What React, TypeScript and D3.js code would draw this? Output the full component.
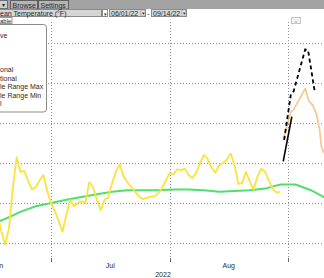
import React from "react";
import * as d3 from "d3";

const W = 324;
const H = 278;

// Actual daily mean temperature (°F), one value per day starting on actualStart
const actualStart = "2022-06-17";
const actualValues = [
  73.5, 71.5, 69.8, 71.8, 76.8, 80.7, 78.9, 79.0, 77.8, 76.7, 77.0, 77.8, 78.5, 76.5,
  75.0, 74.0, 72.8, 71.4, 73.5, 75.4, 74.6, 75.0, 75.2, 75.0, 77.6, 77.0, 75.4, 74.1,
  75.4, 75.7, 77.5, 79.0, 79.8, 78.3, 77.6, 77.0, 76.4, 75.8, 75.5, 75.6, 75.8, 75.8,
  76.2, 76.8, 77.8, 78.7, 78.6, 79.2, 79.1, 79.3, 78.5, 78.1, 78.8, 80.0, 81.0, 80.5,
  79.4, 78.8, 79.75, 80.0, 80.4, 81.2, 79.75, 77.4, 77.5, 78.9, 77.7, 76.7, 78.3, 79.3,
  78.9, 77.8, 76.8, 76.3, 76.4,
];

// Normal temperature
const normalDates = [
  "2022-06-15", "2022-06-19", "2022-06-23", "2022-06-27", "2022-07-01", "2022-07-05",
  "2022-07-09", "2022-07-13", "2022-07-17", "2022-07-21", "2022-07-25", "2022-07-29",
  "2022-08-02", "2022-08-06", "2022-08-10", "2022-08-14", "2022-08-18", "2022-08-22",
  "2022-08-26", "2022-08-30", "2022-09-03", "2022-09-07", "2022-09-11",
];
const normalValues = [
  72.3, 73.0, 73.9, 74.6, 75.0, 75.4, 75.75, 76.1, 76.4, 76.6, 76.6, 76.6,
  76.7, 76.7, 76.6, 76.4, 76.5, 76.6, 76.8, 77.3, 77.3, 76.6, 75.6,
];

// Forecasts
const ensembleTimes = [
  "2022-08-30T18:00:00Z", "2022-09-01T18:00:00Z", "2022-09-02T12:00:00Z",
  "2022-09-05T12:00:00Z", "2022-09-06T12:00:00Z", "2022-09-07T12:00:00Z",
  "2022-09-08T12:00:00Z", "2022-09-09T06:00:00Z", "2022-09-09T18:00:00Z",
  "2022-09-10T12:00:00Z",
];
const ensembleValues = [82.9, 86.4, 86.7, 89.3, 87.7, 87.2, 86.0, 84.2, 82.0, 81.2];

const operationalTimes = ["2022-08-30T18:00:00Z", "2022-09-02T00:00:00Z"];
const operationalValues = [80.2, 85.8];

const rangeMaxTimes = [
  "2022-08-31T00:00:00Z", "2022-09-01T18:00:00Z", "2022-09-02T12:00:00Z",
  "2022-09-05T12:00:00Z", "2022-09-06T06:00:00Z", "2022-09-08T00:00:00Z",
];
const rangeMaxValues = [82.9, 88.6, 89.0, 94.2, 94.1, 88.9];

const yTicks = [70, 75, 80, 85, 90, 95];
const monthTicks = ["2022-07-01", "2022-08-01", "2022-09-01"];
const monthLabels = ["Jun", "Jul", "Aug"];
const monthStarts = ["2022-06-03", "2022-07-01", "2022-08-01"];
const monthEnds = ["2022-07-01", "2022-08-01", "2022-09-01"];
const yearLabel = "2022";

const legendLabels = ["ve", "", "", "", "onal", "tional", "le Range Max", "le Range Min", "l"];

const FONT = "'Liberation Sans', Arial, sans-serif";

export default function App() {
  const x = d3
    .scaleUtc()
    .domain([new Date("2022-07-01T00:00:00Z"), new Date("2022-09-01T00:00:00Z")])
    .range([51, 288]);
  const y = d3.scaleLinear().domain([70, 95]).range([243, 43]);

  const start = new Date(actualStart + "T00:00:00Z");
  const actual = actualValues.map((v, i) => ({ t: d3.utcDay.offset(start, i), v }));
  const normal = normalDates.map((d, i) => ({ t: new Date(d + "T00:00:00Z"), v: normalValues[i] }));
  const ens = ensembleTimes.map((d, i) => ({ t: new Date(d), v: ensembleValues[i] }));
  const oper = operationalTimes.map((d, i) => ({ t: new Date(d), v: operationalValues[i] }));
  const rmax = rangeMaxTimes.map((d, i) => ({ t: new Date(d), v: rangeMaxValues[i] }));

  const line = d3
    .line<{ t: Date; v: number }>()
    .x((d) => x(d.t))
    .y((d) => y(d.v));

  const grid = "#8f8f8f";
  const txt = "#2a2a2a";

  return (
    <svg
      width={W}
      height={H}
      style={{ position: "absolute", left: 0, top: 0, background: "#fff" }}
      fontFamily={FONT}
    >
      <rect x={0} y={0} width={W} height={H} fill="#fff" />
      {/* horizontal gridlines */}
      {yTicks.map((t) => (
        <line
          key={"h" + t}
          x1={0}
          x2={W}
          y1={Math.round(y(t)) + 0.5}
          y2={Math.round(y(t)) + 0.5}
          stroke={grid}
          strokeDasharray="1,2"
        />
      ))}
      {/* vertical gridlines + ticks */}
      {monthTicks.map((m) => {
        const xx = Math.round(x(new Date(m + "T00:00:00Z"))) + 0.5;
        return (
          <g key={"v" + m}>
            <line x1={xx} x2={xx} y1={22} y2={258} stroke={grid} strokeDasharray="1,2" />
            <line x1={xx} x2={xx} y1={258} y2={262} stroke="#666" />
          </g>
        );
      })}
      {/* series */}
      <path d={line(normal) || ""} fill="none" stroke="#4fe06a" strokeWidth={2} />
      <path d={line(actual) || ""} fill="none" stroke="#fbe23c" strokeWidth={1.8} strokeLinejoin="round" />
      <path d={line(ens) || ""} fill="none" stroke="#f8c68e" strokeWidth={1.7} strokeLinejoin="round" />
      <path d={line(oper) || ""} fill="none" stroke="#000" strokeWidth={1.6} />
      <path
        d={line(rmax) || ""}
        fill="none"
        stroke="#000"
        strokeWidth={1.8}
        strokeDasharray="4,3"
      />
      {/* legend box */}
      <rect x={-6} y={24.5} width={52.5} height={87.5} rx={3} fill="#fff" stroke="#8a8a8a" />
      {/* toolbar backgrounds */}
      <rect x={0} y={0} width={W} height={9} fill="#a3a3a3" />
      <rect x={-1.5} y={0.5} width={9} height={8} fill="#cfcfcf" stroke="#6e6e6e" />
      <rect x={10.5} y={0.5} width={27} height={8.5} fill="#b5b5b5" stroke="#5e5e5e" />
      <rect x={38.5} y={0.5} width={30} height={8.5} fill="#b5b5b5" stroke="#5e5e5e" />
      <rect x={0} y={9} width={W} height={8} fill="#fff" />
      <rect x={-1.5} y={9.5} width={103} height={7} fill="#d5d5d5" stroke="#8a8a8a" />
      <rect x={102.5} y={9.5} width={5} height={7} fill="#fff" stroke="#8a8a8a" />
      <rect x={109.5} y={9.5} width={36} height={7} fill="#d9d9d9" stroke="#8a8a8a" />
      <rect x={141} y={10} width={4} height={6} fill="#eee" stroke="#8a8a8a" strokeWidth={0.6} />
      <rect x={151.5} y={9.5} width={35} height={7} fill="#d9d9d9" stroke="#8a8a8a" />
      <rect x={182} y={10} width={4} height={6} fill="#eee" stroke="#8a8a8a" strokeWidth={0.6} />
      <rect x={-2.5} y={17.5} width={14.5} height={6} fill="#fff" stroke="#9a9a9a" />
      <rect x={291.5} y={17.5} width={9} height={6} fill="#f4f4f4" stroke="#c4c4c4" />

      {/* all texts, grayscale antialiased */}
      <g opacity={0.995} fill={txt}>
        {monthLabels.map((lab, i) => {
          const a = x(new Date(monthStarts[i] + "T00:00:00Z"));
          const b = x(new Date(monthEnds[i] + "T00:00:00Z"));
          return (
            <text key={lab} x={(a + b) / 2} y={268} fontSize={7} textAnchor="middle">
              {lab}
            </text>
          );
        })}
        <text x={163} y={277} fontSize={7} textAnchor="middle">
          {yearLabel}
        </text>
        {legendLabels.map((lab, i) =>
          lab ? (
            <text key={i} x={0} y={37.5 + i * 8.6} fontSize={7}>
              {lab}
            </text>
          ) : null
        )}
        <text x={3} y={7} fontSize={6} textAnchor="middle">▾</text>
        <text x={12.5} y={7.5} fontSize={7}>Browse</text>
        <text x={40.5} y={7.5} fontSize={7}>Settings</text>
        <text x={0} y={15.5} fontSize={7}>ean Temperature (°F)</text>
        <text x={105} y={15.5} fontSize={5} textAnchor="middle">▾</text>
        <text x={111} y={15.5} fontSize={7}>06/01/22</text>
        <text x={143} y={15} fontSize={5} textAnchor="middle">▾</text>
        <text x={148.5} y={15.5} fontSize={7} textAnchor="middle">-</text>
        <text x={153} y={15.5} fontSize={7}>09/14/22</text>
        <text x={184} y={15} fontSize={5} textAnchor="middle">▾</text>
        <text x={0} y={22.8} fontSize={6}>able</text>
        <text x={296} y={22.5} fontSize={6} textAnchor="middle" fill="#aaa">«</text>
      </g>
    </svg>
  );
}
